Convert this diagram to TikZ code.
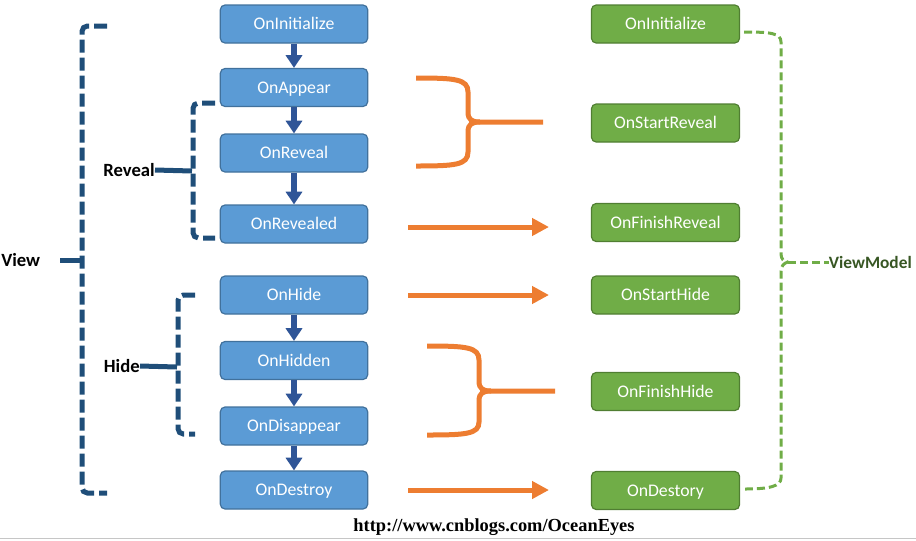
\documentclass[tikz,border=0pt]{standalone}
\usepackage{fontspec}
\setmainfont{Carlito}
\newfontfamily\urlfont{Liberation Serif}
\usetikzlibrary{arrows.meta}
\definecolor{boxblue}{HTML}{5B9BD5}
\definecolor{lineblue}{HTML}{41719C}
\definecolor{arrowblue}{HTML}{2F5597}
\definecolor{braceblue}{HTML}{1F4E79}
\definecolor{boxgreen}{HTML}{70AD47}
\definecolor{linegreen}{HTML}{507E32}
\definecolor{textgreen}{HTML}{375623}
\definecolor{braceorange}{HTML}{ED7D31}

\begin{document}
\begin{tikzpicture}[x=0.75pt, y=-0.75pt,
	every node/.style = {font=\fontsize{13.3}{16}\selectfont},
	viewbox/.style = {shape=rectangle, rounded corners=3.5pt, draw=lineblue, line width=0.9pt, fill=boxblue, text=white, minimum width=110.5pt, minimum height=28.5pt, text height=11pt, text depth=2.4pt},
	modelbox/.style = {viewbox, draw=linegreen, fill=boxgreen, minimum width=111pt},
	grouplabel/.style = {inner sep=0pt, font=\fontsize{14}{16}\selectfont\bfseries},
	flowarrow/.style = {draw=arrowblue, line width=4.5pt, -{Triangle[width=12pt,length=9.5pt]}},
	callarrow/.style = {draw=braceorange, line width=3.75pt, -{Triangle[width=12.75pt,length=12.75pt]}},
	viewgroup/.style = {draw=braceblue, line width=3.75pt, dash pattern=on 9.75pt off 3.75pt, rounded corners=4pt},
	grouplink/.style = {draw=braceblue, line width=3.75pt},
	vmgroup/.style = {draw=boxgreen, line width=2.25pt, dash pattern=on 6pt off 3pt},
	orangebrace/.style = {draw=braceorange, line width=3.75pt}]
	\useasboundingbox (0,0) rectangle (916,540);

	\node[viewbox] (vinit) at (294,24) {OnInitialize};
	\node[viewbox] (vappear) at (294,87.5) {OnAppear};
	\node[viewbox] (vreveal) at (294,153) {OnReveal};
	\node[viewbox] (vrevealed) at (294,224) {OnRevealed};
	\node[viewbox] (vhide) at (294,295) {OnHide};
	\node[viewbox] (vhidden) at (294,360.5) {OnHidden};
	\node[viewbox] (vdisappear) at (294,426) {OnDisappear};
	\node[viewbox] (vdestroy) at (294,490) {OnDestroy};

	\node[modelbox] (minit) at (665.5,24) {OnInitialize};
	\node[modelbox] (mstartreveal) at (665.5,123) {OnStartReveal};
	\node[modelbox] (mfinishreveal) at (665.5,222.5) {OnFinishReveal};
	\node[modelbox] (mstarthide) at (665.5,295) {OnStartHide};
	\node[modelbox] (mfinishhide) at (665.5,391.5) {OnFinishHide};
	\node[modelbox] (mdestory) at (665.5,490.5) {OnDestory};

	\foreach \a/\b in {vinit/vappear, vappear/vreveal, vreveal/vrevealed, vhide/vhidden, vhidden/vdisappear, vdisappear/vdestroy}
		\draw[flowarrow] (\a) -- (\b);

	\node[grouplabel, anchor=west] (view) at (1,260) {View};
	\node[grouplabel, anchor=east] (reveal) at (155,170) {Reveal};
	\node[grouplabel, anchor=east] (hide) at (140,366) {Hide};
	\node[grouplabel, anchor=east, text=textgreen, font=\fontsize{13}{16}\selectfont\bfseries] (viewmodel) at (912,262) {ViewModel};

	\coordinate (viewtip) at (80,260);
	\coordinate (revealtip) at (192,171);
	\coordinate (hidetip) at (177,367);
	\draw[viewgroup] (107,26) -- (82,26) -- (82,493) -- (107,493);
	\draw[viewgroup] (215,103) -- (193,103) -- (193,238) -- (215,238);
	\draw[viewgroup] (195,295) -- (178,295) -- (178,434) -- (195,434);
	\draw[grouplink] ([xshift=15pt]view.east) -- (viewtip);
	\draw[grouplink] (reveal.east) -- (revealtip);
	\draw[grouplink] (hide.east) -- (hidetip);

	\draw[orangebrace] (416,78) .. controls (455,78) and (468,79) .. (468,92) -- (468,112) .. controls (468,120) and (472,122) .. (480,122) -- (543,122);
	\draw[orangebrace] (480,122) .. controls (472,122) and (468,124) .. (468,132) -- (468,152) .. controls (468,165) and (455,166) .. (416,166);
	\draw[orangebrace] (427,346) .. controls (466,346) and (479,347) .. (479,360) -- (479,381) .. controls (479,389) and (483,391) .. (491,391) -- (555,391);
	\draw[orangebrace] (491,391) .. controls (483,391) and (479,393) .. (479,401) -- (479,422) .. controls (479,434) and (466,435) .. (427,435);

	\coordinate (revealedfrom) at (408,227);
	\coordinate (revealedto) at (549,227);
	\coordinate (hidefrom) at (408,295);
	\coordinate (hideto) at (549,295);
	\coordinate (destroyfrom) at (408,490);
	\coordinate (destroyto) at (549,490);
	\draw[callarrow] (revealedfrom) -- (revealedto);
	\draw[callarrow] (hidefrom) -- (hideto);
	\draw[callarrow] (destroyfrom) -- (destroyto);

	\coordinate (vmtip) at (788,262);
	\draw[vmgroup] (744,32) .. controls (770,32) and (781,33) .. (781,42) -- (781,254) .. controls (781,259) and (784,262) .. (vmtip);
	\draw[vmgroup] (vmtip) .. controls (784,263) and (781,266) .. (781,271) -- (781,478) .. controls (781,486) and (770,489) .. (745,489);
	\draw[vmgroup] (vmtip) -- (viewmodel.west);

	\node[font=\urlfont\bfseries\fontsize{13.8}{16}\selectfont] (url) at (494,527) {http://www.cnblogs.com/OceanEyes};
	\draw[gray!45, line width=0.75pt] (0,538.5) -- (916,538.5);
\end{tikzpicture}
\end{document}
